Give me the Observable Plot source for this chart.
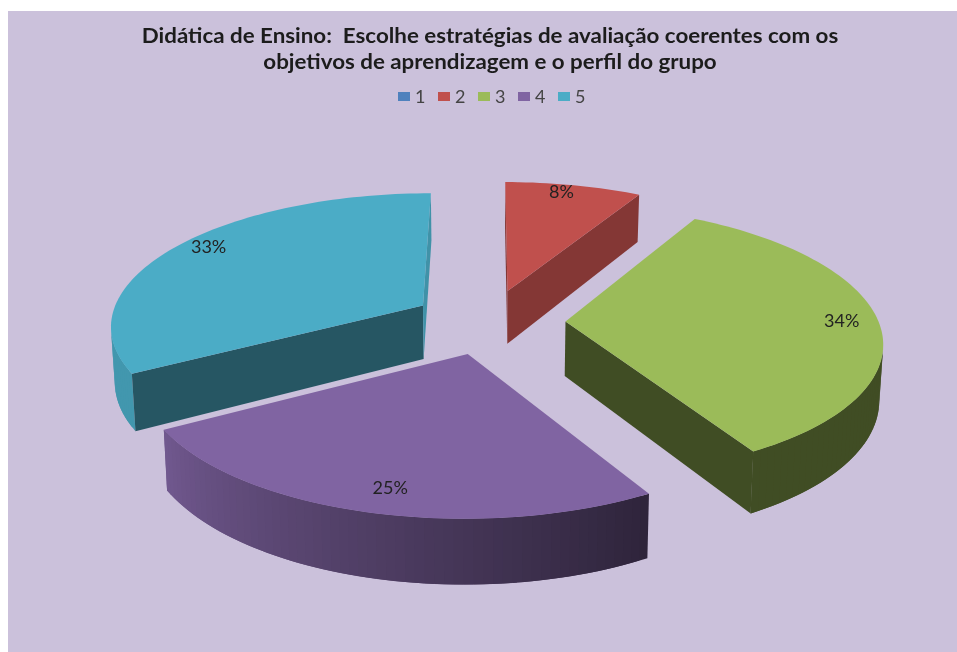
<!DOCTYPE html>
<html>
<head>
<meta charset="utf-8">
<script src="https://cdn.jsdelivr.net/npm/d3@7"></script>
<script src="https://cdn.jsdelivr.net/npm/@observablehq/plot@0.6"></script>
<style>
html,body{margin:0;padding:0;background:#fff;width:957px;height:652px;overflow:hidden}
#panel{position:absolute;left:8px;top:11px;width:949px;height:641px;background:#CBC1DB;font-family:Lato,"Open Sans",sans-serif;filter:blur(.45px)}
#title{position:absolute;left:0;width:964px;top:11px;text-align:center;font-weight:700;font-size:20.5px;line-height:26px;color:#1c1c1c;transform:scaleX(1.09)}
#legend{position:absolute;left:0;width:980px;top:74px;height:22px;display:flex;justify-content:center;align-items:center;color:#444;font-size:18px}
#legend span.item{display:flex;align-items:center;width:40px}
#legend span.sw{display:inline-block;width:12px;height:9px;margin-right:5px}
#chart{position:absolute;left:0;top:109px}
#chart svg{display:block;background:transparent}
</style>
</head>
<body>
<div id="panel">
  <div id="title"></div>
  <div id="legend"></div>
  <div id="chart"></div>
</div>
<script>
const titleLines = ["Didática de Ensino:  Escolhe estratégias de avaliação coerentes com os", "objetivos de aprendizagem e o perfil do grupo"];
const categories = ["1", "2", "3", "4", "5"];
const shares = [0, 8.2, 33.5, 25, 33.3];
const colors = ["#4F81BD", "#C0504D", "#9BBB59", "#8064A2", "#4BACC6"];
const radialShade = [0.5, 0.69, 0.41, 0.5, 0.5];
const drawOrder = [1, 4, 2, 3];
const labelNudgeX = [0, -5, 1, 10, 3];
const labelNudgeY = [0, -4, 0, -2, -5];

const explode = 0.246, persp = 0.139, unit = 313, tilt = 132 / unit, depth = 54.5 / unit, shrink = 0.01;
const W = 949, H = 532, cx = 480, cy = 201;

const project = (X, Y, z) => {
  const s = 1 / (1 - persp * Y);
  return {x: X * s * (1 - shrink * z), y: (Y * tilt + z * depth) * s};
};
const total = d3.sum(shares);
let acc = 0;
const slices = shares.map((v, i) => {
  const a0 = acc / total * 2 * Math.PI; acc += v;
  const a1 = acc / total * 2 * Math.PI;
  return {i, v, a0, a1, mid: (a0 + a1) / 2};
});
const outerShade = (k, a) => {
  if (k === 2) return radialShade[2];
  const deg = a * 180 / Math.PI;
  return 0.36 + 0.52 * Math.max(0, Math.min(1, (deg - 150) / 90));
};
const shadeColor = (c, f) => {
  const r = d3.rgb(c);
  return d3.rgb(r.r * f, r.g * f, r.b * f).formatHex();
};

const polys = [];
let pid = 0;
const addPoly = (pts, color) => {
  const id = pid++;
  pts.forEach(p => polys.push({id, x: p.x, y: p.y, color}));
};
const signedArea = pts => {
  let t = 0;
  pts.forEach((p, j) => { const q = pts[(j + 1) % pts.length]; t += p.x * q.y - q.x * p.y; });
  return t;
};

for (const k of drawOrder) {
  const sl = slices[k];
  const ox = explode * Math.sin(sl.mid), oy = -explode * Math.cos(sl.mid);
  const at = (a, r, z) => project(ox + r * Math.sin(a), oy - r * Math.cos(a), z);
  const steps = Math.max(8, Math.round((sl.a1 - sl.a0) / (Math.PI / 120)));
  const stepA = (sl.a1 - sl.a0) / steps;
  const angles = d3.range(steps + 1).map(j => sl.a0 + stepA * j);
  const side = (pa, ra, pb, rb, col, test = [pa, ra, pb, rb]) => {
    const q = [at(pa, ra, 0), at(pb, rb, 0), at(pb, rb, 1), at(pa, ra, 1)];
    const t = [at(test[0], test[1], 0), at(test[2], test[3], 0), at(test[2], test[3], 1), at(test[0], test[1], 1)];
    if (signedArea(t) < 0) addPoly(q, col);
  };
  const radial = shadeColor(colors[k], radialShade[k]);
  for (let j = 0; j < steps; j++) {
    const mid = (angles[j] + angles[j + 1]) / 2;
    // each strip runs a little under its neighbour so that no seam shows
    side(angles[j], 1, Math.min(sl.a1, angles[j + 1] + stepA), 1, shadeColor(colors[k], outerShade(k, mid)), [angles[j], 1, angles[j + 1], 1]);
  }
  side(sl.a0, 0, sl.a0, 1, radial);
  side(sl.a1, 1, sl.a1, 0, k === 4 ? shadeColor(colors[k], 0.85) : radial);
  addPoly([at(0, 0, 0), ...angles.map(a => at(a, 1, 0))], colors[k]);
}

const labels = slices.filter(s => s.v > 0).map(s => {
  const r = 0.88;
  const p = project((explode + r) * Math.sin(s.mid), -(explode + r) * Math.cos(s.mid), 0);
  return {x: p.x + labelNudgeX[s.i] / unit, y: p.y + labelNudgeY[s.i] / unit, text: Math.round(s.v) + "%"};
});

document.getElementById("title").innerHTML = titleLines.map(t => `<div style="white-space:pre">${t}</div>`).join("");
document.getElementById("legend").innerHTML = categories.map((c, i) =>
  `<span class="item"><span class="sw" style="background:${colors[i]}"></span>${c}</span>`).join("");

const chart = Plot.plot({
  width: W, height: H,
  margin: 0,
  style: {background: "transparent"},
  x: {domain: [-cx / unit, (W - cx) / unit], range: [0, W], axis: null},
  y: {domain: [-cy / unit, (H - cy) / unit], range: [0, H], axis: null},
  color: {type: "identity"},
  marks: [
    Plot.line(polys, {x: "x", y: "y", z: "id", fill: "color", curve: "linear"}),
    Plot.text(labels, {x: "x", y: "y", text: "text", fontSize: 18, fontFamily: "Lato", fill: "#222"})
  ]
});
document.getElementById("chart").appendChild(chart);
</script>
</body>
</html>
